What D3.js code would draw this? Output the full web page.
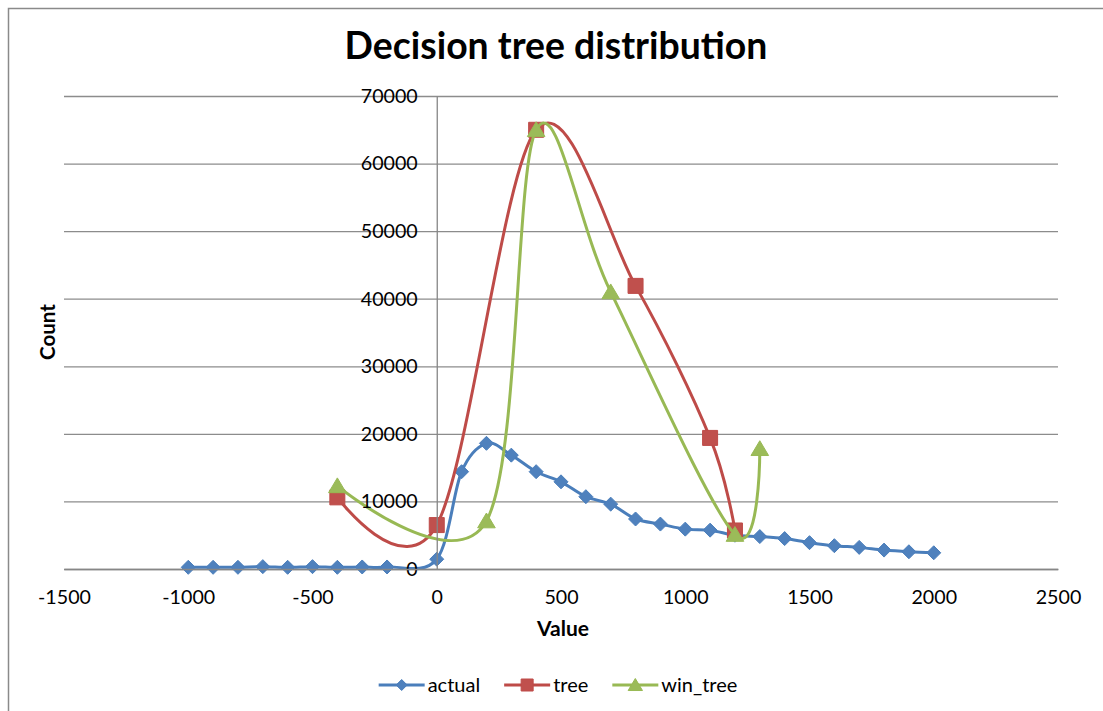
<!DOCTYPE html>
<html lang="en">
<head>
<meta charset="UTF-8"/>
<title>Decision tree distribution</title>
<script src="https://cdnjs.cloudflare.com/ajax/libs/d3/7.8.5/d3.min.js"></script>
<style>
	body {margin: 0; background: #fff;}
	svg {font-family: Lato, 'Open Sans', sans-serif; display: block;}
	.axis .domain {stroke: #868686; stroke-width: 1.3;}
	.grid line {stroke: #8c8c8c; stroke-width: 1.3;}
	.grid .domain {display: none;}
</style>
</head>
<body>
<div class="chart"></div>
<script>
// series values
const actualX = [-1000, -900, -800, -700, -600, -500, -400, -300, -200,
	0, 100, 200, 300, 400, 500, 600, 700, 800, 900, 1000,
	1100, 1200, 1300, 1400, 1500, 1600, 1700, 1800, 1900, 2000];
const actualY = [250, 250, 250, 350, 250, 350, 250, 300, 300,
	1450, 14400, 18600, 16850, 14400, 12900, 10700, 9600, 7400, 6650, 5900,
	5750, 5000, 4800, 4500, 3900, 3450, 3200, 2800, 2550, 2400];
const treeX = [-400, 0, 400, 800, 1100, 1200];
const treeY = [10600, 6500, 65000, 41900, 19400, 5700];
const winTreeX = [-400, 200, 400, 700, 1200, 1300];
const winTreeY = [12300, 7100, 65000, 41000, 5100, 17800];

const seriesNames = ['actual', 'tree', 'win_tree'];
const xTicks = [-1500, -1000, -500, 0, 500, 1000, 1500, 2000, 2500];
const yTicks = [0, 10000, 20000, 30000, 40000, 50000, 60000, 70000];

const width = 1103, height = 711;
const plot = {left: 64, right: 1058, top: 96, bottom: 569};

const colors = {actual: '#4A7EBB', tree: '#BE4B48', win_tree: '#98B954'};
const fills = {actual: '#4F81BD', tree: '#C0504D', win_tree: '#9BBB59'};

const svg = d3.select('.chart').append('svg')
	.attr('width', width)
	.attr('height', height);

// outer chart border (only top and left edges are in the frame)
svg.append('rect')
	.attr('x', 8.5).attr('y', 8.5)
	.attr('width', width + 20).attr('height', height + 20)
	.attr('fill', '#fff')
	.attr('stroke', '#8a8a8a')
	.attr('stroke-width', 1.5);

const x = d3.scaleLinear().domain([-1500, 2500]).range([plot.left, plot.right]);
const y = d3.scaleLinear().domain([0, 70000]).range([plot.bottom, plot.top]);

// plain hyphen minus like Excel, not the unicode one
const fmt = d => String(d);

// fit font size of a text so that it is w px wide
function fit(sel, w) {
	const len = sel.node().getComputedTextLength();
	const fs = parseFloat(sel.attr('font-size'));
	return fs * w / len;
}

// gridlines
svg.append('g')
	.attr('class', 'grid')
	.attr('transform', 'translate(' + plot.left + ',0)')
	.call(d3.axisLeft(y).tickValues(yTicks).tickSize(-(plot.right - plot.left)).tickFormat(''));

// measure tick label size from the widest label
const probe = svg.append('text').attr('font-size', 20).text('70000');
const tickFs = fit(probe, 57);
probe.remove();

// series
const curve = d3.curveCardinal.tension(0);
const line = d3.line().x(d => x(d[0])).y(d => y(d[1])).curve(curve);

const series = {
	actual: d3.zip(actualX, actualY),
	tree: d3.zip(treeX, treeY),
	win_tree: d3.zip(winTreeX, winTreeY)
};

function marker(name, s) {
	if (name === 'actual') return 'M0,' + (-s) + 'L' + s + ',0L0,' + s + 'L' + (-s) + ',0Z';
	if (name === 'tree') return 'M' + (-s) + ',' + (-s) + 'H' + s + 'V' + s + 'H' + (-s) + 'Z';
	return 'M0,' + (-s * 1.0) + 'L' + (s * 1.1) + ',' + (s * 0.85) + 'L' + (-s * 1.1) + ',' + (s * 0.85) + 'Z';
}
const markerSize = {actual: 7, tree: 7.5, win_tree: 8};

seriesNames.forEach(name => {
	const g = svg.append('g').attr('class', 'series-' + name);
	g.append('path')
		.datum(series[name])
		.attr('fill', 'none')
		.attr('stroke', colors[name])
		.attr('stroke-width', 3)
		.attr('stroke-linejoin', 'round')
		.attr('d', line);
	g.selectAll('path.mk')
		.data(series[name])
		.enter()
		.append('path')
		.attr('class', 'mk')
		.attr('transform', d => 'translate(' + x(d[0]) + ',' + y(d[1]) + ')')
		.attr('d', marker(name, markerSize[name]))
		.attr('fill', fills[name])
		.attr('stroke', colors[name])
		.attr('stroke-width', 1);
});

// y axis (labels + line at zero)
const yAxis = svg.append('g')
	.attr('class', 'axis')
	.attr('transform', 'translate(' + x(0) + ',0)')
	.call(d3.axisLeft(y).tickValues(yTicks).tickSize(0).tickPadding(19).tickFormat(fmt));
yAxis.selectAll('text')
	.attr('font-size', tickFs)
	.attr('font-family', 'Lato, sans-serif')
	.attr('fill', '#000');

// x axis
const xAxis = svg.append('g')
	.attr('class', 'axis')
	.attr('transform', 'translate(0,' + plot.bottom + ')')
	.call(d3.axisBottom(x).tickValues(xTicks).tickSize(0).tickPadding(21).tickFormat(fmt));
xAxis.selectAll('text')
	.attr('font-size', tickFs)
	.attr('font-family', 'Lato, sans-serif')
	.attr('fill', '#000');

// title
const title = svg.append('text')
	.attr('x', 556)
	.attr('y', 59)
	.attr('text-anchor', 'middle')
	.attr('font-weight', 'bold')
	.attr('font-size', 30)
	.text('Decision tree distribution');
title.attr('font-size', fit(title, 423));

// axis titles
const xTitle = svg.append('text')
	.attr('x', 563)
	.attr('y', 636)
	.attr('text-anchor', 'middle')
	.attr('font-weight', 'bold')
	.attr('font-size', 18)
	.text('Value');
xTitle.attr('font-size', fit(xTitle, 52));

const yTitle = svg.append('text')
	.attr('transform', 'translate(55,332) rotate(-90)')
	.attr('text-anchor', 'middle')
	.attr('font-weight', 'bold')
	.attr('font-size', 18)
	.text('Count');
yTitle.attr('font-size', fit(yTitle, 56));

// legend
const legend = svg.append('g').attr('class', 'legend');
const legendY = 685;
const legendFs = 20;
let lx = 0;
seriesNames.forEach(name => {
	const it = legend.append('g');
	it.append('line')
		.attr('x1', 0).attr('x2', 46)
		.attr('y1', 0).attr('y2', 0)
		.attr('stroke', colors[name])
		.attr('stroke-width', 3);
	it.append('path')
		.attr('transform', 'translate(23,0)')
		.attr('d', marker(name, markerSize[name] - 1.5))
		.attr('fill', fills[name])
		.attr('stroke', colors[name]);
	const t = it.append('text')
		.attr('x', 49)
		.attr('y', 0)
		.attr('dy', '0.35em')
		.attr('font-size', legendFs)
		.attr('fill', '#000')
		.text(name);
	const w = 49 + t.node().getComputedTextLength();
	it.attr('transform', 'translate(' + lx + ',' + legendY + ')');
	lx += w + 24;
});
const legendW = lx - 24;
legend.attr('transform', 'translate(' + (558 - legendW / 2) + ',0)');
</script>
</body>
</html>
